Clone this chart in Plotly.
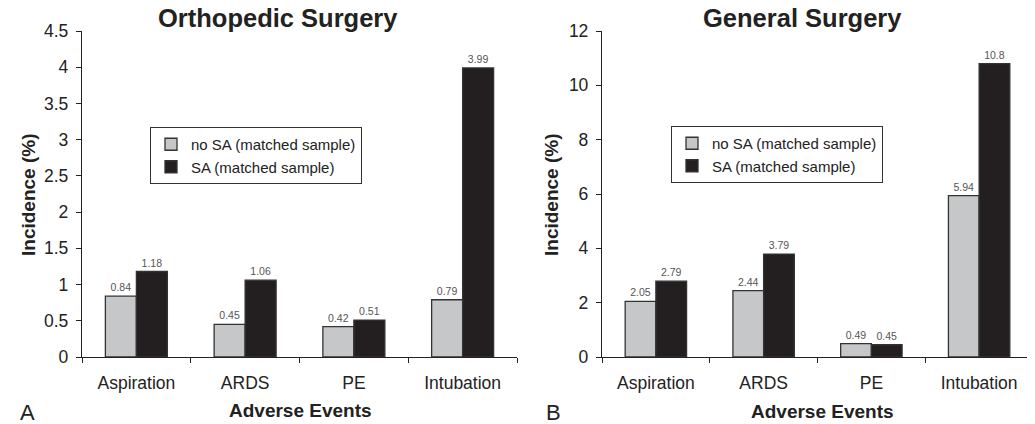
import plotly.graph_objects as go

categories = ["Aspiration", "ARDS", "PE", "Intubation"]
ortho_no_sa = [0.84, 0.45, 0.42, 0.79]
ortho_sa = [1.18, 1.06, 0.51, 3.99]
gen_no_sa = [2.05, 2.44, 0.49, 5.94]
gen_sa = [2.79, 3.79, 0.45, 10.8]
series_names = ["no SA (matched sample)", "SA (matched sample)"]

FONT = "Liberation Sans, Arial, sans-serif"
GREY = "#c6c7c9"
BLACK = "#231f20"
TXT = "#222222"
OFF = 8  # page body margin
W, H = 1035 - OFF, 424 - OFF

def px(x):
    return (x - OFF) / W

def py(y):
    return 1 - (y - OFF) / H

fig = go.Figure()

def add_pair(no_sa, sa, xa, ya, legend):
    for vals, col, name in [(no_sa, GREY, series_names[0]), (sa, BLACK, series_names[1])]:
        fig.add_trace(go.Bar(
            x=categories, y=vals, name=name, xaxis=xa, yaxis=ya, legend=legend,
            marker=dict(color=col, line=dict(color="#333333", width=1.3)),
            text=[f"{v:g}" for v in vals], textposition="outside",
            textfont=dict(size=10.5, color="#555555", family=FONT),
            cliponaxis=False,
        ))

add_pair(ortho_no_sa, ortho_sa, "x", "y", "legend")
add_pair(gen_no_sa, gen_sa, "x2", "y2", "legend2")

ydom = [py(357), py(31)]
axis_common = dict(showline=True, linecolor=TXT, linewidth=1.3, ticks="outside",
                   ticklen=5, tickcolor=TXT, showgrid=False, zeroline=False, automargin=False,
                   tickfont=dict(family=FONT, size=17.5, color=TXT))

leg_common = dict(xanchor="left", yanchor="top", bordercolor="#333333", borderwidth=1,
                  bgcolor="white", font=dict(size=15, family=FONT, color=TXT),
                  tracegroupgap=0, itemwidth=30, traceorder="normal")

def ann(text, x, y, size, bold=False, angle=0):
    return dict(text=f"<b>{text}</b>" if bold else text, x=px(x), y=py(y),
                xref="paper", yref="paper", xanchor="center", yanchor="middle",
                showarrow=False, textangle=angle,
                font=dict(size=size, family=FONT, color=TXT))

fig.update_layout(
    width=W, height=H, margin=dict(l=0, r=0, t=0, b=0, autoexpand=False),
    paper_bgcolor="white", plot_bgcolor="white",
    font=dict(family=FONT, color=TXT),
    barmode="group", bargap=0.43, bargroupgap=0,
    xaxis=dict(domain=[px(82), px(517)], anchor="y", tickson="boundaries",
               ticklabelstandoff=10, **axis_common),
    yaxis=dict(domain=ydom, anchor="x", range=[0, 4.5], dtick=0.5,
               ticklabelstandoff=4, **axis_common),
    xaxis2=dict(domain=[px(602), px(1033)], anchor="y2", tickson="boundaries",
                ticklabelstandoff=10, **axis_common),
    yaxis2=dict(domain=ydom, anchor="x2", range=[0, 12], dtick=2,
                ticklabelstandoff=4, **axis_common),
    legend=dict(x=px(150), y=py(127), **leg_common),
    legend2=dict(x=px(671), y=py(126), **leg_common),
    annotations=[
        ann("Orthopedic Surgery", 278, 18, 25.5, bold=True),
        ann("General Surgery", 802, 18, 25.5, bold=True),
        ann("Incidence (%)", 28, 195, 19, bold=True, angle=-90),
        ann("Incidence (%)", 551, 195, 19, bold=True, angle=-90),
        ann("Adverse Events", 300, 410, 19, bold=True),
        ann("Adverse Events", 822, 411, 19, bold=True),
        ann("A", 27, 412, 22),
        ann("B", 553, 412, 22),
    ],
)

fig.write_html("out.html")
